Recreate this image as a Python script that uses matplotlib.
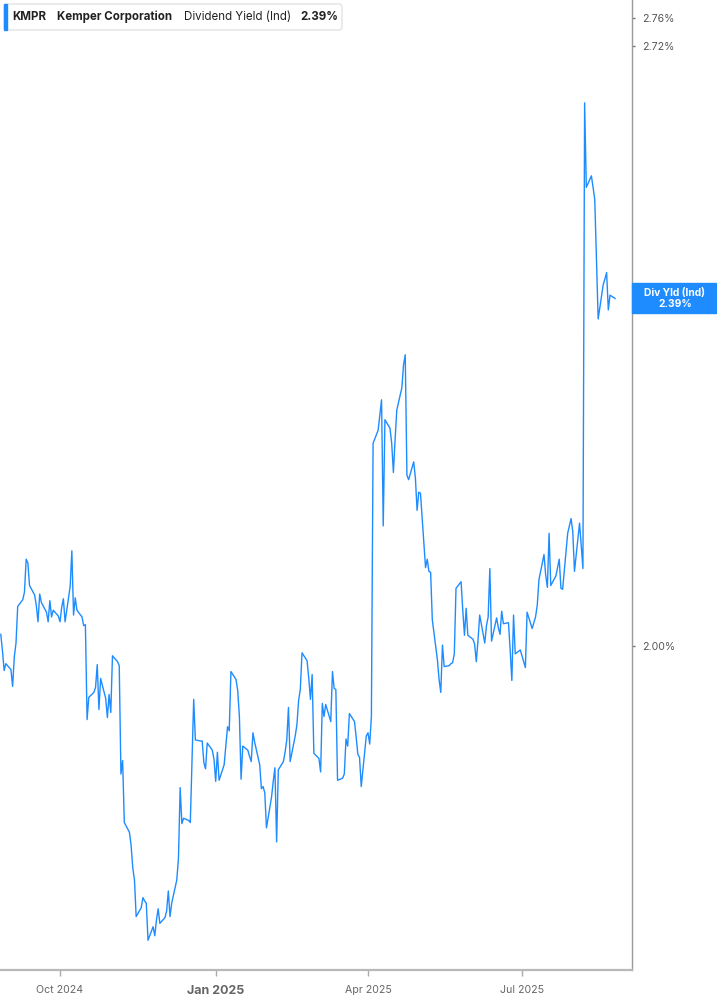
import numpy as np
import pandas as pd
import matplotlib
matplotlib.use('Agg')
import matplotlib.pyplot as plt
import matplotlib.dates as mdates
from matplotlib.patches import FancyBboxPatch, Rectangle
from matplotlib.transforms import IdentityTransform
from matplotlib.ticker import NullLocator, NullFormatter

plt.rcParams['font.family'] = ['Inter', 'DejaVu Sans']

ticker = 'KMPR'
company = 'Kemper Corporation'
metric = 'Dividend Yield (Ind)'
start_date = '2024-08-27'

# daily dividend yield (%), one value per business day
div_yield = [
    2.012, 1.995, 1.975, 1.982, 1.976, 1.959, 1.989, 2.003, 2.041, 2.048,
    2.056, 2.091, 2.087, 2.063, 2.053, 2.042, 2.025, 2.054, 2.045, 2.035,
    2.025, 2.047, 2.030, 2.037, 2.031, 2.025, 2.040, 2.049, 2.025, 2.062,
    2.100, 2.032, 2.050, 2.037, 2.030, 2.021, 2.022, 1.926, 1.948, 1.953,
    1.958, 1.981, 1.936, 1.967, 1.947, 1.928, 1.951, 1.933, 1.990, 1.984,
    1.980, 1.873, 1.886, 1.827, 1.818, 1.806, 1.785, 1.774, 1.741, 1.749,
    1.758, 1.755, 1.753, 1.720, 1.732, 1.724, 1.738, 1.748, 1.735, 1.740,
    1.746, 1.764, 1.741, 1.753, 1.774, 1.794, 1.860, 1.826, 1.831, 1.829,
    1.827, 1.887, 1.946, 1.906, 1.905, 1.905, 1.884, 1.878, 1.903, 1.896,
    1.887, 1.866, 1.894, 1.867, 1.882, 1.900, 1.919, 1.915, 1.974, 1.966,
    1.955, 1.929, 1.868, 1.900, 1.896, 1.890, 1.885, 1.913, 1.904, 1.882,
    1.859, 1.861, 1.855, 1.822, 1.851, 1.866, 1.879, 1.809, 1.877, 1.885,
    1.894, 1.906, 1.938, 1.885, 1.910, 1.921, 1.945, 1.956, 1.993, 1.985,
    1.967, 1.946, 1.971, 1.893, 1.888, 1.875, 1.942, 1.929, 1.941, 1.924,
    1.974, 1.957, 1.956, 1.867, 1.869, 1.873, 1.907, 1.900, 1.932, 1.924,
    1.909, 1.892, 1.889, 1.861, 1.910, 1.913, 1.902, 1.929, 2.219, 2.234,
    2.251, 2.269, 2.127, 2.246, 2.236, 2.219, 2.186, 2.223, 2.257, 2.283,
    2.310, 2.322, 2.183, 2.178, 2.198, 2.180, 2.144, 2.164, 2.163, 2.082,
    2.091, 2.078, 2.077, 2.027, 1.986, 1.966, 1.953, 2.001, 1.979, 1.980,
    1.982, 1.983, 1.992, 2.060, 2.067, 2.037, 2.011, 2.039, 2.011, 2.007,
    2.002, 1.984, 2.006, 2.032, 2.003, 2.021, 2.030, 2.081, 2.005, 2.029,
    2.019, 2.012, 2.036, 2.023, 2.024, 1.996, 1.965, 2.032, 1.992, 1.996,
    1.990, 1.984, 1.978, 2.035, 2.018, 2.024, 2.030, 2.042, 2.069, 2.096,
    2.074, 2.061, 2.119, 2.063, 2.073, 2.082, 2.091, 2.060, 2.059, 2.119,
    2.127, 2.135, 2.121, 2.078, 2.130, 2.106, 2.081, 2.642, 2.530, 2.545,
    2.530, 2.514, 2.440, 2.365, 2.407, 2.414, 2.422, 2.376, 2.394, 2.390,
]

y_ticks = [2.00, 2.72, 2.76]
y_tick_labels = ['2.00%', '2.72%', '2.76%']
x_ticks = ['2024-10-01', '2025-01-01', '2025-04-01', '2025-07-01']
x_tick_labels = ['Oct 2024', 'Jan 2025', 'Apr 2025', 'Jul 2025']

dates = pd.bdate_range(start_date, periods=len(div_yield))
last = div_yield[-1]

BLUE = '#1e8cff'
W, H = 717, 1005
fig = plt.figure(figsize=(W / 100, H / 100), dpi=100)
ax = fig.add_axes([0, 35 / H, 632 / W, 970 / H])

ax.plot(dates, div_yield, color=BLUE, lw=1.0)

ax.set_yscale('log')
ax.set_ylim(1.694, 2.785)
ax.set_xlim(pd.Timestamp('2024-08-26 13:00'), pd.Timestamp('2025-09-04'))

for s in ['left', 'top']:
    ax.spines[s].set_visible(False)
ax.spines['bottom'].set_color('#b8b8b8')
ax.spines['bottom'].set_linewidth(1.6)
ax.spines['right'].set_color('#9a9a9a')
ax.spines['right'].set_linewidth(1.0)

ax.yaxis.tick_right()
ax.set_yticks(y_ticks, y_tick_labels)
ax.yaxis.set_minor_locator(NullLocator())
ax.yaxis.set_minor_formatter(NullFormatter())
ax.tick_params(axis='y', length=2, width=1, color='#777777', labelsize=7.6,
               labelcolor='#555555', pad=5)

ax.set_xticks(pd.to_datetime(x_ticks), x_tick_labels)
ax.tick_params(axis='x', length=4, width=1, color='#aaaaaa', labelsize=7.6,
               labelcolor='#666666', pad=7)
for lab in ax.get_xticklabels():
    if lab.get_text() == 'Jan 2025':
        lab.set_fontweight('bold')
        lab.set_fontsize(9)

# header box
fig.add_artist(FancyBboxPatch((4, H - 30), 338, 26,
                              boxstyle='round,pad=0,rounding_size=3',
                              transform=IdentityTransform(),
                              fc='white', ec='#e3e3e3', lw=1))
fig.add_artist(Rectangle((4, H - 30), 3, 26, transform=IdentityTransform(),
                         color=BLUE))
ty = 1 - 17 / H
fig.text(12 / W, ty, ticker, fontsize=8.3, fontweight='bold', color='#222222', va='center')
fig.text(57 / W, ty, company, fontsize=8.3, fontweight='bold', color='#222222', va='center')
fig.text(184 / W, ty, metric, fontsize=8.3, color='#222222', va='center')
fig.text(300 / W, ty, f'{last:.2f}%', fontsize=8.3, fontweight='bold', color='#222222', va='center')

# last value label on the right axis
yp = ax.transData.transform((mdates.date2num(dates[-1]), last))[1]
fig.add_artist(Rectangle((632, yp - 15), 85, 30, transform=IdentityTransform(),
                         color=BLUE))
fig.text(675 / W, (yp + 5) / H, 'Div Yld (Ind)', fontsize=7.4, fontweight='bold',
         color='white', ha='center', va='center')
fig.text(675 / W, (yp - 6) / H, f'{last:.2f}%', fontsize=7.4, fontweight='bold',
         color='white', ha='center', va='center')

fig.savefig('out.png', dpi=100)
